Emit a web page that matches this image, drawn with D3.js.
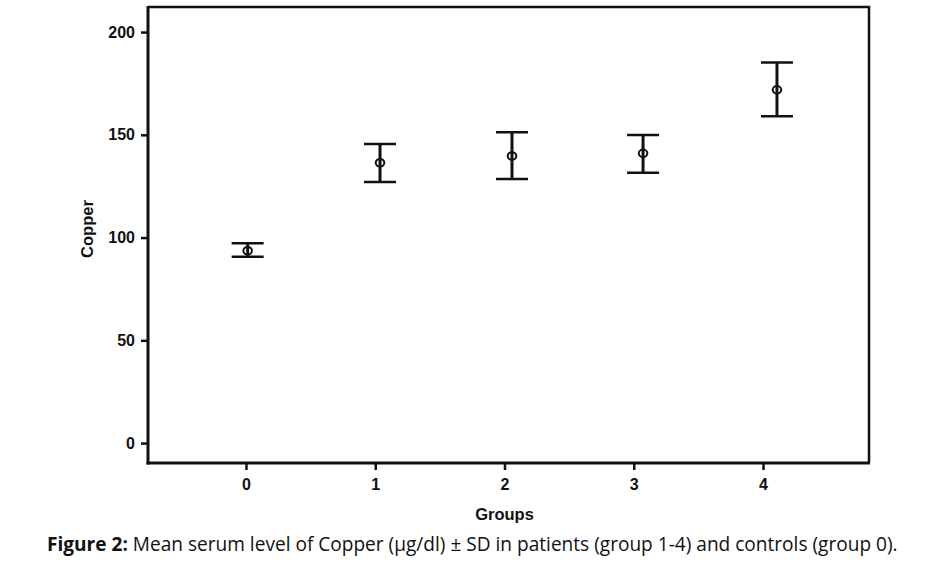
<!DOCTYPE html>
<html>
<head>
<meta charset="utf-8">
<script src="https://cdn.jsdelivr.net/npm/d3@7"></script>
<style>
  html, body { margin: 0; padding: 0; background: #fff; }
  svg { display: block; }
  .ax text { font-family: 'Liberation Sans', Arial, sans-serif; font-weight: bold; font-size: 16px; fill: #111; }
</style>
</head>
<body>
<svg id="chart" width="946" height="574"></svg>
<script>
// ---- data ----
const groups = [0, 1, 2, 3, 4];
const groupX = [0.013, 1.037, 2.058, 3.072, 4.108]; // plotted horizontal positions
const means = [93.6, 136.4, 139.7, 141.0, 171.9];
const upper = [97.2, 145.5, 151.2, 149.9, 185.2];
const lower = [90.7, 127.0, 128.5, 131.5, 159.0];
const yTicks = [0, 50, 100, 150, 200];
const xTicks = [0, 1, 2, 3, 4];
const xTitle = "Groups";
const yTitle = "Copper";
const captionBold = "Figure 2:";
const captionText = " Mean serum level of Copper (µg/dl) ± SD in patients (group 1-4) and controls (group 0).";

// ---- layout ----
const svg = d3.select("#chart");
const pL = 148, pR = 869, pT = 7, pB = 463;
const x = d3.scaleLinear().domain([-0.758, 4.82]).range([pL, pR]);
const y = d3.scaleLinear().domain([-9.7, 212.2]).range([pB, pT]);
const axisFont = "'Liberation Sans', Arial, sans-serif";
const fmt = d3.format("d");

// frame top/right
svg.append("path")
  .attr("d", `M${pL},${pT}H${pR}V${pB}`)
  .attr("fill", "none").attr("stroke", "#111").attr("stroke-width", 2.5);

// y axis
const yAxis = svg.append("g").attr("class", "ax").attr("transform", `translate(${pL},0)`)
  .call(d3.axisLeft(y).tickValues(yTicks).tickFormat(fmt).tickSize(7).tickPadding(6).tickSizeOuter(0));
yAxis.select(".domain").attr("stroke", "#111").attr("stroke-width", 3)
  .attr("d", `M0,${pT - 1}V${pB + 1.5}`);
yAxis.selectAll(".tick line").attr("stroke", "#111").attr("stroke-width", 2.5);

// x axis
const xAxis = svg.append("g").attr("class", "ax").attr("transform", `translate(0,${pB})`)
  .call(d3.axisBottom(x).tickValues(xTicks).tickFormat(fmt).tickSize(7).tickPadding(9).tickSizeOuter(0));
xAxis.select(".domain").attr("stroke", "#111").attr("stroke-width", 3)
  .attr("d", `M${pL - 1.5},0H${pR + 1}`);
xAxis.selectAll(".tick line").attr("stroke", "#111").attr("stroke-width", 2.5);

// axis titles
svg.append("text").attr("x", x(2)).attr("y", 520)
  .attr("text-anchor", "middle").attr("font-family", axisFont)
  .attr("font-weight", "bold").attr("font-size", 16.5).attr("fill", "#111")
  .text(xTitle);
svg.append("text").attr("transform", `translate(93,229) rotate(-90)`)
  .attr("text-anchor", "middle").attr("font-family", axisFont)
  .attr("font-weight", "bold").attr("font-size", 16.5).attr("fill", "#111")
  .text(yTitle);

// error bars
const data = groups.map((g, i) => ({ g, xv: groupX[i], m: means[i], hi: upper[i], lo: lower[i] }));
const eb = svg.append("g").selectAll("g").data(data).join("g");
eb.append("line")
  .attr("x1", d => x(d.xv)).attr("x2", d => x(d.xv))
  .attr("y1", d => y(d.hi)).attr("y2", d => y(d.lo))
  .attr("stroke", "#111").attr("stroke-width", 3);
eb.append("line")
  .attr("x1", d => x(d.xv) - 16).attr("x2", d => x(d.xv) + 16)
  .attr("y1", d => y(d.hi)).attr("y2", d => y(d.hi))
  .attr("stroke", "#111").attr("stroke-width", 2.5);
eb.append("line")
  .attr("x1", d => x(d.xv) - 16).attr("x2", d => x(d.xv) + 16)
  .attr("y1", d => y(d.lo)).attr("y2", d => y(d.lo))
  .attr("stroke", "#111").attr("stroke-width", 2.5);
eb.append("ellipse")
  .attr("cx", d => x(d.xv)).attr("cy", d => y(d.m))
  .attr("rx", 4.3).attr("ry", 3.8)
  .attr("fill", "none").attr("stroke", "#111").attr("stroke-width", 2);

// caption
const cap = svg.append("text").attr("x", 47).attr("y", 551)
  .attr("font-family", "'Open Sans', 'Noto Sans', sans-serif")
  .attr("font-size", 17).attr("fill", "#111");
cap.append("tspan").attr("font-weight", "bold").text(captionBold);
cap.append("tspan").text(captionText);
const w = cap.node().getComputedTextLength();
const targetW = 851;
cap.attr("font-size", 17 * targetW / w);
</script>
</body>
</html>
